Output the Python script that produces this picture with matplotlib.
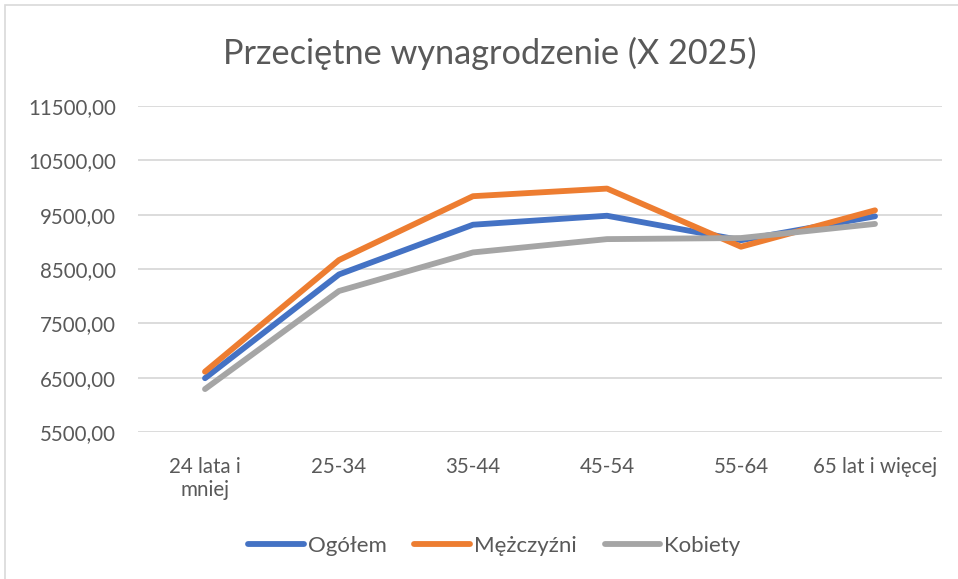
import matplotlib.pyplot as plt
from matplotlib.patches import Rectangle
from matplotlib.ticker import FuncFormatter

# values
categories = ["24 lata i\nmniej", "25-34", "35-44", "45-54", "55-64", "65 lat i więcej"]
ogolem = [6490, 8400, 9315, 9480, 9030, 9470]
mezczyzni = [6610, 8665, 9840, 9980, 8910, 9580]
kobiety = [6290, 8095, 8805, 9050, 9070, 9330]
y_ticks = [5500, 6500, 7500, 8500, 9500, 10500, 11500]

plt.rcParams['font.family'] = ['Lato', 'DejaVu Sans']
text_col = "#595959"

fig = plt.figure(figsize=(9.58, 5.79), dpi=100)
ax = fig.add_axes([138 / 958, 1 - 432 / 579, 804 / 958, 326 / 579])

x = range(len(categories))
ax.plot(x, ogolem, color="#4472C4", lw=4.2, solid_capstyle="round", label="Ogółem")
ax.plot(x, mezczyzni, color="#ED7D31", lw=4.2, solid_capstyle="round", label="Mężczyźni")
ax.plot(x, kobiety, color="#A5A5A5", lw=4.2, solid_capstyle="round", label="Kobiety")

ax.set_xlim(-0.5, len(categories) - 0.5)
ax.set_ylim(5500, 11500)
ax.set_yticks(y_ticks)
ax.yaxis.set_major_formatter(FuncFormatter(lambda v, p: f"{v:.2f}".replace(".", ",")))
ax.set_xticks(list(x))
ax.set_xticklabels(categories)
ax.grid(axis="y", color="#D9D9D9", lw=1.3)
ax.set_axisbelow(True)
for s in ax.spines.values():
    s.set_visible(False)
ax.tick_params(axis="both", length=0, labelsize=14.8, labelcolor=text_col)
ax.tick_params(axis="y", pad=16)
ax.tick_params(axis="x", pad=18)

fig.suptitle("Przeciętne wynagrodzenie (X 2025)", x=0.511, y=0.937, fontsize=24.7, color=text_col)

fig.legend(loc="center", bbox_to_anchor=(0.516, 0.057), ncol=3, frameon=False,
           fontsize=16, labelcolor=text_col, handlelength=2.5, handletextpad=0.18,
           columnspacing=1.25)

fig.patches.append(Rectangle((5 / 958, -0.01), 1.0, 1 - 5 / 579 + 0.01, transform=fig.transFigure,
                             fill=False, edgecolor="#D9D9D9", lw=1.2))

fig.savefig("out.png", dpi=100)
